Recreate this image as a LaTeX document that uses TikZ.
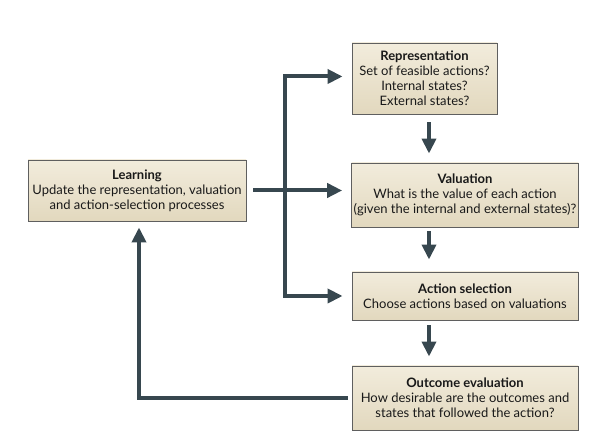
\documentclass[tikz,border=0pt]{standalone}
\usepackage{fontspec}
\setmainfont{Lato}
\usetikzlibrary{arrows.meta}
\definecolor{flowc}{RGB}{55,71,79}
\definecolor{boxtop}{RGB}{242,236,220}
\definecolor{boxbot}{RGB}{226,216,190}
\definecolor{boxline}{RGB}{95,95,95}
\begin{document}
\begin{tikzpicture}[x=1pt,y=1pt,
  boxnode/.style={draw=boxline, line width=0.9pt, top color=boxtop, bottom color=boxbot,
    align=center, inner sep=2pt, font=\fontsize{13}{15}\selectfont, text=black!90},
  flow/.style={draw=flowc, line width=4pt, miter limit=10, line join=miter,
    -{Triangle[length=15pt,width=14pt]}}]
\useasboundingbox (0,0) rectangle (590,438);
\node[boxnode, minimum width=145pt, minimum height=71pt] (rep) at (424.5,359.5)
  {\textbf{Representation}\\Set of feasible actions?\\Internal states?\\External states?};
\node[boxnode, minimum width=226pt, minimum height=64pt] (val) at (465,243)
  {\textbf{Valuation}\\What is the value of each action\\(given the internal and external states)?};
\node[boxnode, minimum width=226pt, minimum height=48pt] (act) at (465,142)
  {\textbf{Action selection}\\Choose actions based on valuations};
\node[boxnode, minimum width=226pt, minimum height=64pt] (out) at (465,40)
  {\textbf{Outcome evaluation}\\How desirable are the outcomes and\\states that followed the action?};
\node[boxnode, minimum width=218pt, minimum height=61pt] (learn) at (137,247.5)
  {\textbf{Learning}\\Update the representation, valuation\\and action-selection processes};
\coordinate (tr) at (285,0);
\coordinate (col) at (429,0);
\draw[flow, shorten >=9pt] (tr |- act.west) |- ([yshift=2pt]rep.west);
\draw[flow, shorten >=9pt] (tr |- rep.west) |- (act.west);
\draw[flow, shorten >=9pt, shorten <=7pt] (learn.east) -- (val.west |- learn.east);
\draw[flow, shorten >=9pt, shorten <=8pt] (col |- rep.south) -- (col |- val.north);
\draw[flow, shorten >=12pt, shorten <=4pt] (col |- val.south) -- (col |- act.north);
\draw[flow, shorten >=9pt, shorten <=5pt] (col |- act.south) -- (col |- out.north);
\draw[flow, shorten >=6pt, shorten <=4pt] (out.west) -| ([xshift=2pt]learn.south);
\end{tikzpicture}
\end{document}
